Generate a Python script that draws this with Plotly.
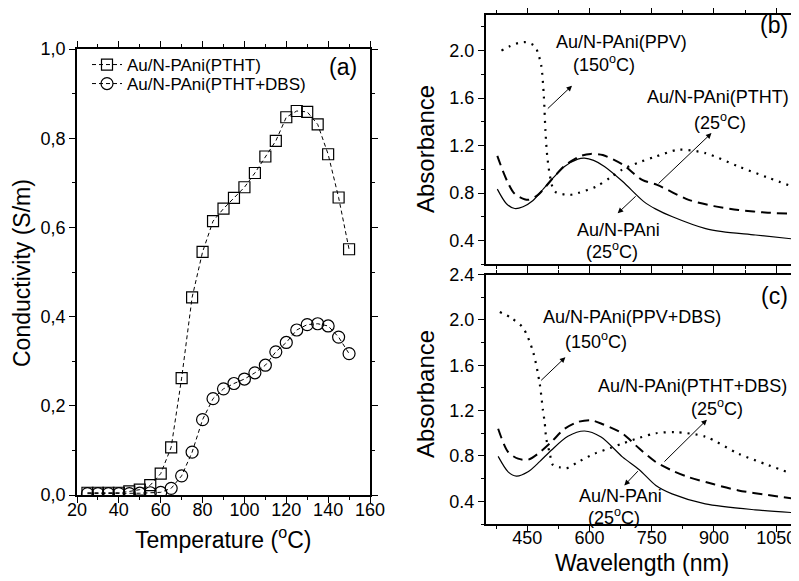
import plotly.graph_objects as go

# reference is 799x581; the page body has an 8px margin, so the figure is drawn
# 8px smaller and every position below is given in reference pixels.
OFF = 8
W, H = 799 - OFF, 581 - OFF

# ---------------- data: panel (a) ----------------
temp = [25, 30, 35, 40, 45, 50, 55, 60, 65, 70, 75, 80, 85, 90, 95, 100,
        105, 110, 115, 120, 125, 130, 135, 140, 145, 150]
cond_ptht = [0.005, 0.005, 0.005, 0.005, 0.008, 0.012, 0.022, 0.048, 0.107, 0.262,
             0.443, 0.545, 0.614, 0.642, 0.666, 0.690, 0.722, 0.759, 0.794, 0.847,
             0.861, 0.859, 0.831, 0.764, 0.667, 0.551]
cond_ptht_dbs = [0.003, 0.003, 0.003, 0.003, 0.003, 0.004, 0.005, 0.006, 0.015, 0.043,
                 0.096, 0.169, 0.216, 0.238, 0.250, 0.260, 0.274, 0.291, 0.321, 0.342,
                 0.370, 0.382, 0.384, 0.379, 0.354, 0.317]
a_yticks = [0.0, 0.2, 0.4, 0.6, 0.8, 1.0]
a_yticktext = ["0,0", "0,2", "0,4", "0,6", "0,8", "1,0"]

# ---------------- data: panel (b) ----------------
b_solid_wl = [378, 400, 420, 440, 464, 490, 508, 540, 572, 588, 610, 636, 680, 731,
              760, 800, 880, 920, 1000, 1100]
b_solid_a = [0.833, 0.71, 0.67, 0.685, 0.737, 0.84, 0.91, 1.024, 1.086, 1.094, 1.075,
             1.024, 0.897, 0.728, 0.665, 0.60, 0.50, 0.475, 0.447, 0.41]
b_dash_wl = [378, 392, 404, 420, 452, 476, 508, 540, 580, 603, 632, 680, 727, 763,
             839, 900, 959, 1030, 1100]
b_dash_a = [1.114, 0.98, 0.884, 0.793, 0.743, 0.785, 0.91, 1.03, 1.114, 1.13, 1.12,
            1.04, 0.911, 0.869, 0.743, 0.69, 0.658, 0.635, 0.624]
b_dot_wl = [388, 410, 430, 448, 468, 476, 484, 490, 494, 498, 504, 512, 520, 552, 572,
            616, 650, 680, 720, 760, 815, 879, 959, 1030, 1100]
b_dot_a = [2.0, 2.04, 2.065, 2.07, 2.04, 1.98, 1.87, 1.62, 1.32, 1.12, 0.96, 0.84, 0.805,
           0.785, 0.80, 0.855, 0.93, 1.0, 1.06, 1.108, 1.165, 1.137, 1.024, 0.93, 0.841]

# ---------------- data: panel (c) ----------------
c_solid_wl = [380, 404, 424, 452, 480, 508, 548, 588, 628, 680, 720, 760, 799, 879,
              999, 1100]
c_solid_a = [0.796, 0.66, 0.622, 0.66, 0.75, 0.85, 0.973, 1.02, 0.967, 0.79, 0.679,
             0.54, 0.466, 0.378, 0.325, 0.298]
c_dash_wl = [380, 404, 428, 452, 476, 508, 540, 572, 604, 632, 680, 720, 760, 800,
             839, 900, 959, 1030, 1100]
c_dash_a = [1.04, 0.835, 0.776, 0.767, 0.82, 0.923, 1.04, 1.10, 1.115, 1.08, 0.997,
            0.865, 0.746, 0.67, 0.613, 0.55, 0.496, 0.455, 0.42]
c_dot_wl = [384, 410, 440, 464, 480, 488, 492, 496, 504, 512, 528, 544, 572, 612, 650,
            680, 720, 760, 807, 879, 959, 1030, 1100]
c_dot_a = [2.07, 2.02, 1.93, 1.72, 1.44, 1.20, 1.10, 0.95, 0.83, 0.72, 0.70, 0.69, 0.746,
           0.82, 0.87, 0.91, 0.96, 1.0, 1.01, 0.97, 0.82, 0.72, 0.628]

FONT = "Liberation Sans, Arial, sans-serif"
TICK = 18
TITLE = 23
ANN = 18


def fx(x):
    return (x - OFF) / W


def fy(y):
    return 1 - (y - OFF) / H


fig = go.Figure()

# panel (a)
fig.add_trace(go.Scatter(x=temp, y=cond_ptht, mode="lines+markers", name="Au/N-PAni(PTHT)",
                         line=dict(color="black", width=1, dash="4px,3px"),
                         marker=dict(symbol="square-open", size=11, color="black",
                                     line=dict(width=1.2, color="black")),
                         xaxis="x", yaxis="y", legend="legend"))
fig.add_trace(go.Scatter(x=temp, y=cond_ptht_dbs, mode="lines+markers", name="Au/N-PAni(PTHT+DBS)",
                         line=dict(color="black", width=1, dash="4px,3px"),
                         marker=dict(symbol="circle-open", size=12, color="black",
                                     line=dict(width=1.2, color="black")),
                         xaxis="x", yaxis="y", legend="legend2"))

solid = dict(color="black", width=1.2, shape="spline", smoothing=0.8)
dash = dict(color="black", width=2, dash="10px,6px", shape="spline", smoothing=0.8)
dot = dict(color="black", width=2.2, dash="2px,6px", shape="spline", smoothing=0.8)

for (wl, a, ln, ax, ay) in [
    (b_solid_wl, b_solid_a, solid, "x2", "y2"),
    (b_dash_wl, b_dash_a, dash, "x2", "y2"),
    (b_dot_wl, b_dot_a, dot, "x2", "y2"),
    (c_solid_wl, c_solid_a, solid, "x3", "y3"),
    (c_dash_wl, c_dash_a, dash, "x3", "y3"),
    (c_dot_wl, c_dot_a, dot, "x3", "y3"),
]:
    fig.add_trace(go.Scatter(x=wl, y=a, mode="lines", line=ln, showlegend=False,
                             xaxis=ax, yaxis=ay))

axis_common = dict(showline=True, linecolor="black", linewidth=1.5, mirror="ticks",
                   ticks="outside", ticklen=6, tickwidth=1.2, tickcolor="black",
                   showgrid=False, zeroline=False, automargin=False,
                   tickfont=dict(family=FONT, size=TICK, color="black"))

leg_common = dict(xanchor="left", yanchor="middle", bgcolor="rgba(0,0,0,0)",
                  font=dict(family=FONT, size=17, color="black"))

fig.update_layout(
    width=W, height=H,
    margin=dict(l=0, r=0, t=0, b=0, autoexpand=False),
    paper_bgcolor="white", plot_bgcolor="white",
    font=dict(family=FONT, color="black"),
    showlegend=True,
    legend=dict(x=fx(87), y=fy(65), **leg_common),
    legend2=dict(x=fx(87), y=fy(84), **leg_common),
    xaxis=dict(domain=[fx(77), fx(370)], range=[20, 160], dtick=20, tick0=20,
               ticklabelstandoff=-8,
               minor=dict(dtick=10, ticklen=3, ticks="outside", tickcolor="black"),
               anchor="y", **axis_common),
    yaxis=dict(domain=[fy(495), fy(49)], range=[0, 1.0], tickvals=a_yticks,
               ticktext=a_yticktext,
               minor=dict(dtick=0.1, ticklen=3, ticks="outside", tickcolor="black"),
               anchor="x", **axis_common),
    xaxis2=dict(domain=[fx(485.7), fx(797)], range=[350, 1100], tick0=450, dtick=150,
                minor=dict(dtick=75, tick0=375, ticklen=3, ticks="outside", tickcolor="black"),
                showticklabels=False, anchor="y2", matches="x3", **axis_common),
    yaxis2=dict(domain=[fy(264.3), fy(15)], range=[0.2, 2.3], tick0=0.4, dtick=0.4,
                tickformat=".1f",
                minor=dict(dtick=0.2, tick0=0.2, ticklen=3, ticks="outside", tickcolor="black"),
                anchor="x2", **axis_common),
    xaxis3=dict(domain=[fx(485.7), fx(797)], range=[350, 1100], tick0=450, dtick=150,
                ticklabelstandoff=-9,
                minor=dict(dtick=75, tick0=375, ticklen=3, ticks="outside", tickcolor="black"),
                anchor="y3", **axis_common),
    yaxis3=dict(domain=[fy(524), fy(274.5)], range=[0.2, 2.4], tick0=0.4, dtick=0.4,
                tickformat=".1f",
                minor=dict(dtick=0.2, tick0=0.2, ticklen=3, ticks="outside", tickcolor="black"),
                anchor="x3", **axis_common),
)

# text labels (reference pixel centres)
texts = [
    ("(a)", 343, 67, TITLE, 0),
    ("(b)", 774, 25, TITLE, 0),
    ("(c)", 774, 296, TITLE, 0),
    ("Conductivity (S/m)", 22, 273, TITLE, -90),
    ("Temperature (<sup>o</sup>C)", 223, 538, TITLE, 0),
    ("Absorbance", 425, 149, TITLE + 1, -90),
    ("Absorbance", 425, 394, TITLE + 1, -90),
    ("Wavelength (nm)", 642, 563, TITLE, 0),
    ("Au/N-PAni(PPV)", 621, 42, ANN, 0),
    ("(150<sup>o</sup>C)", 604, 64, ANN, 0),
    ("Au/N-PAni(PTHT)", 718, 97, ANN, 0),
    ("(25<sup>o</sup>C)", 720, 121, ANN, 0),
    ("Au/N-PAni", 618, 230, ANN, 0),
    ("(25<sup>o</sup>C)", 612, 251, ANN, 0),
    ("Au/N-PAni(PPV+DBS)", 632, 317, ANN, 0),
    ("(150<sup>o</sup>C)", 596, 340, ANN, 0),
    ("Au/N-PAni(PTHT+DBS)", 692, 386, ANN, 0),
    ("(25<sup>o</sup>C)", 717, 407, ANN, 0),
    ("Au/N-PAni", 620, 496, ANN, 0),
    ("(25<sup>o</sup>C)", 614, 516, ANN, 0),
]
for t, x, y, s, ang in texts:
    fig.add_annotation(text=t, x=fx(x), y=fy(y), xref="paper", yref="paper", showarrow=False,
                       xanchor="center", yanchor="middle", textangle=ang,
                       font=dict(family=FONT, size=s, color="black"))

# arrows (tail -> head in data coordinates)
arrows = [
    ("x2", "y2", 496, 1.50, 558, 1.705),
    ("x2", "y2", 763, 0.869, 894, 1.305),
    ("x2", "y2", 715, 0.785, 668, 0.63),
    ("x3", "y3", 480, 1.454, 542, 1.67),
    ("x3", "y3", 777, 0.737, 883, 1.12),
    ("x3", "y3", 720, 0.679, 684, 0.54),
]
for xr, yr, tx, ty, hx, hy in arrows:
    fig.add_annotation(x=hx, y=hy, ax=tx, ay=ty, xref=xr, yref=yr, axref=xr, ayref=yr,
                       showarrow=True, arrowhead=2, arrowsize=1.1, arrowwidth=1,
                       arrowcolor="black", text="")

fig.write_html("out.html")
